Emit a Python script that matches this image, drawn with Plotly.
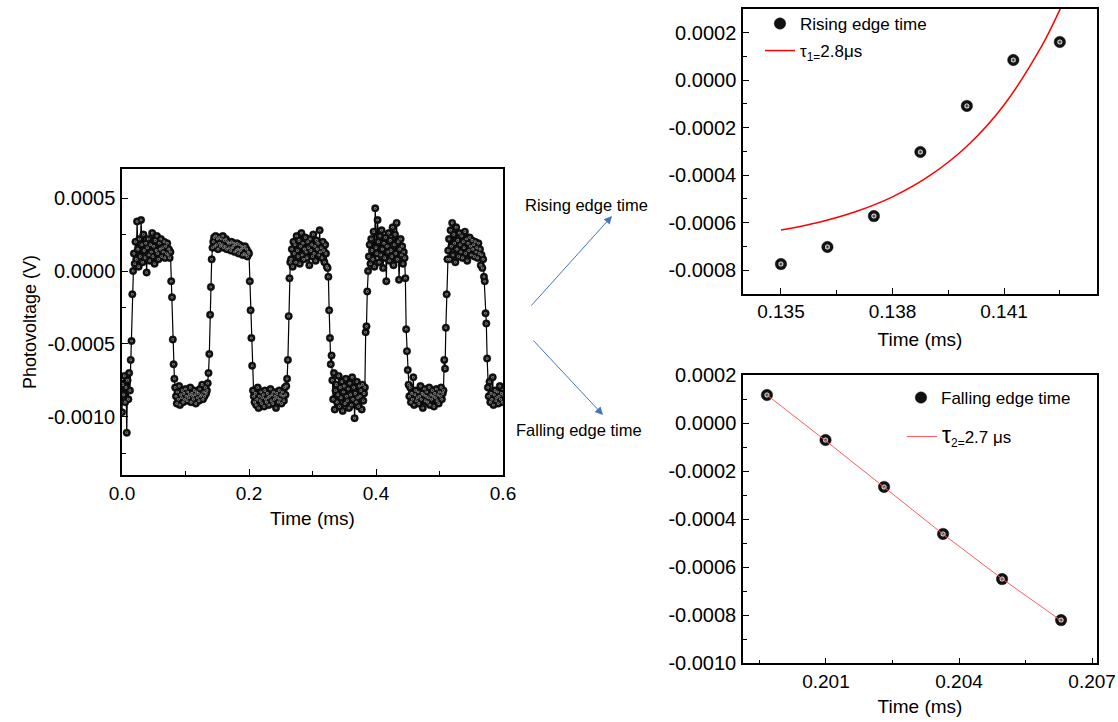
import plotly.graph_objects as go

# ---------------- main trace: photovoltage vs time (sampled every 1.25 us) ----------------
SAMPLE_STEP_MS = 0.00125
# values in units of 1e-5 V, segment by segment
low0 = [-97, -78, -85, -72, -90, -80, -111, -75, -88, -70, -82]
rise1 = [-61, -48, -16, 0]
high1 = [12, 5, 20, 8, 34, 15, 3, 22, 10, 35, 18, 6, 25, 14, 9, 19, -1, 16, 22, 11,
         7, 18, 13, 26, 10, 17, 5, 21, 14, 24, 12, 8, 19, 15, 22, 10, 16, 13, 20, 9,
         17, 12, 19, 11, 15, 9, 13]
fall1 = [-7, -18, -47, -64, -74]
low1 = [-80, -86, -91, -83, -88, -79, -92, -85, -87, -82, -90, -84, -88, -81, -86, -89,
        -83, -87, -85, -80, -90, -84, -86, -88, -82, -85, -91, -83, -87, -84, -89, -81,
        -86, -85, -78, -88, -83, -86, -80, -84, -82]
rise2 = [-77, -70, -57, -30, -11, 8, 16]
high2 = [20, 23, 17, 24, 18, 22, 15, 23, 19, 17, 22, 18, 24, 16, 21, 17, 22, 15, 20, 19,
         16, 19, 14, 20, 16, 17, 19, 13, 18, 14, 19, 15, 12, 18, 14, 15, 17, 11, 16, 12,
         17, 11, 15, 10, 13]
fall2 = [12, -7, -27, -46, -65, -82]
low2 = [-86, -90, -84, -92, -88, -80, -94, -86, -89, -83, -91, -87, -85, -93, -82, -88,
        -90, -84, -87, -92, -86, -81, -89, -85, -91, -83, -88, -86, -94, -84, -87, -90,
        -82, -88, -85, -91, -83, -86, -89, -80, -85, -79, -74]
rise3 = [-61, -31, -5, 6]
high3 = [8, 15, 3, 20, 12, 18, 6, 24, 14, 10, 21, 5, 17, 26, 11, 19, 8, 15, 23, 13,
         9, 20, 16, 4, 22, 14, 18, 10, 25, 12, 17, 7, 21, 15, 19, 11, 28, 13, 16, 9,
         20, 14, 6, 18, 12, 3, 2]
fall3 = [-4, -27, -46, -64]
low3 = [-58, -75, -88, -70, -95, -82, -78, -90, -85, -72, -93, -80, -87, -76, -96, -83,
        -79, -91, -74, -86, -89, -81, -94, -77, -85, -92, -73, -88, -80, -101, -84, -90,
        -76, -87, -93, -79, -86, -82, -95, -78, -89, -84, -80]
rise4 = [-42, -38, -14, 0]
high4 = [10, 18, 5, 22, 14, 8, 27, 3, 43, 16, 12, 35, 20, 6, 24, 11, 28, 15, 2, 19,
         9, 23, -7, 17, 13, 26, 7, 21, 14, 10, 30, 4, 18, 25, 12, 33, 8, 20, -6, 15,
         22, 11, 17, 5, 13, 9]
fall4 = [-5, -40, -55, -68, -78]
low4 = [-86, -80, -90, -84, -88, -73, -92, -85, -82, -89, -87, -83, -91, -86, -79, -88,
        -84, -94, -85, -81, -89, -86, -83, -90, -87, -80, -92, -85, -88, -82, -86, -93,
        -84, -87, -81, -89, -85, -91, -83, -86, -80, -88, -84, -82]
rise5 = [-61, -67, -39, -16, 8]
high5 = [14, 22, 8, 28, 17, 33, 11, 25, 19, 6, 30, 15, 21, 10, 26, 18, 13, 24, 9, 20,
         16, 27, 12, 22, 7, 19, 14, 23, 17, 11, 21, 15, 18, 10, 20, 13, 16, 9, 19, 12,
         15, 4, 11, 2, 8]
fall5 = [-4, -7, -29, -36, -60]
low5 = [-80, -86, -76, -90, -84, -88, -73, -92, -85, -82, -89, -87, -83, -91, -86, -79,
        -88, -84, -90, -85]

segments = [low0, rise1, high1, fall1, low1, rise2, high2, fall2, low2, rise3, high3,
            fall3, low3, rise4, high4, fall4, low4, rise5, high5, fall5, low5]
photovoltage_1e5V = [v for seg in segments for v in seg]
time_ms = [round(i * SAMPLE_STEP_MS, 6) for i in range(len(photovoltage_1e5V))]
photovoltage_V = [v * 1e-5 for v in photovoltage_1e5V]

# ---------------- rising-edge inset ----------------
rise_time_ms = [0.135, 0.13625, 0.1375, 0.13875, 0.14, 0.14125, 0.1425]
rise_volt = [-0.000775, -0.000703, -0.000573, -0.000303, -0.000109, 0.0000842, 0.00016]
rise_fit_time_ms = [0.135, 0.136, 0.137, 0.138, 0.139, 0.140, 0.141, 0.142, 0.1425, 0.143]
rise_fit_volt = [-0.000632, -0.000600, -0.000555, -0.000492, -0.000403, -0.000279,
                 -0.000105, 0.000139, 0.000296, 0.000482]

# ---------------- falling-edge inset ----------------
fall_time_ms = [0.19967, 0.20099, 0.20231, 0.20364, 0.20497, 0.2063]
fall_volt = [0.000118, -0.0000696, -0.000265, -0.000461, -0.000649, -0.00082]
fall_fit_volt = [0.000118, -0.000072, -0.000266, -0.000462, -0.000648, -0.000822]

# ---------------- tick labels ----------------
main_x_ticks = [0.0, 0.2, 0.4, 0.6]
main_x_labels = ["0.0", "0.2", "0.4", "0.6"]
main_y_ticks = [0.0005, 0.0, -0.0005, -0.0010]
main_y_labels = ["0.0005", "0.0000", "-0.0005", "-0.0010"]
rise_x_ticks = [0.135, 0.138, 0.141]
rise_x_labels = ["0.135", "0.138", "0.141"]
rise_y_ticks = [0.0002, 0.0, -0.0002, -0.0004, -0.0006, -0.0008]
rise_y_labels = ["0.0002", "0.0000", "-0.0002", "-0.0004", "-0.0006", "-0.0008"]
fall_x_ticks = [0.201, 0.204, 0.207]
fall_x_labels = ["0.201", "0.204", "0.207"]
fall_y_ticks = [0.0002, 0.0, -0.0002, -0.0004, -0.0006, -0.0008, -0.0010]
fall_y_labels = ["0.0002", "0.0000", "-0.0002", "-0.0004", "-0.0006", "-0.0008", "-0.0010"]

W, H = 1118, 722
FONT = "Arial, 'Liberation Sans', sans-serif"
BALL = "#111111"


def px(x):
    return x / W


def py(y):
    return 1 - y / H


fig = go.Figure()


def add_balls(x, y, xa, ya, size, hl_size, hl_color, name=None, legend=None, lines=False):
    fig.add_trace(go.Scatter(
        x=x, y=y, mode="lines+markers" if lines else "markers", xaxis=xa, yaxis=ya,
        line=dict(color="black", width=1.2),
        marker=dict(size=size, color=BALL, line=dict(color="black", width=0.4)),
        name=name, legend=legend, showlegend=name is not None))
    fig.add_trace(go.Scatter(
        x=x, y=y, mode="markers", xaxis=xa, yaxis=ya,
        marker=dict(size=hl_size, color=hl_color, gradient=dict(type="radial", color=BALL)),
        showlegend=False, hoverinfo="skip"))


# main data
add_balls(time_ms, photovoltage_V, "x", "y", 7.5, 2.6, "#a8a8a8", lines=True)
# rising inset
add_balls(rise_time_ms, rise_volt, "x2", "y2", 11.5, 5, "#f4f4f4",
          name="Rising edge time", legend="legend")
fig.add_trace(go.Scatter(
    x=rise_fit_time_ms, y=rise_fit_volt, mode="lines", xaxis="x2", yaxis="y2",
    line=dict(color="#ff0000", width=1.5, shape="spline"),
    name="τ<sub>1=</sub>2.8μs", legend="legend2"))
# falling inset
add_balls(fall_time_ms, fall_volt, "x3", "y3", 11.5, 5, "#f4f4f4",
          name="Falling edge time", legend="legend3")
fig.add_trace(go.Scatter(
    x=fall_time_ms, y=fall_fit_volt, mode="lines", xaxis="x3", yaxis="y3",
    line=dict(color="#ff5a5a", width=1),
    name="<span style='font-size:23px'>τ</span><sub>2=</sub>2.7 μs", legend="legend4"))


def axis_style(is_x, **kw):
    base = dict(showline=True, linecolor="black", linewidth=1.5, mirror=True,
                showgrid=False, zeroline=False, ticks="inside", ticklen=6, tickwidth=1.2,
                tickcolor="black", automargin=False,
                tickfont=dict(family=FONT, size=19 if is_x else 20, color="black"),
                ticklabelstandoff=0 if is_x else 1)
    base.update(kw)
    return base


def minor(vals):
    return dict(tickvals=vals, ticks="inside", ticklen=4, tickcolor="black", tickwidth=1.2)


title_font = dict(family=FONT, size=19, color="black")

fig.update_layout(
    width=W, height=H, autosize=False,
    margin=dict(l=0, r=0, t=0, b=0, pad=0, autoexpand=False),
    paper_bgcolor="white", plot_bgcolor="white",
    font=dict(family=FONT, color="black"),
    xaxis=axis_style(True, domain=[px(122), px(503)], range=[0, 0.6], anchor="y",
                     tickvals=main_x_ticks, ticktext=main_x_labels,
                     minor=minor([0.1, 0.3, 0.5]),
                     title=dict(text="Time (ms)", font=title_font, standoff=9)),
    yaxis=axis_style(False, domain=[py(475), py(169)], range=[-0.0014, 0.0007], anchor="x",
                     tickvals=main_y_ticks, ticktext=main_y_labels,
                     minor=minor([0.00025, -0.00025, -0.00075, -0.00125]),
                     title=dict(text="Photovoltage (V)",
                                font=dict(family=FONT, size=18, color="black"), standoff=6)),
    xaxis2=axis_style(True, domain=[px(743), px(1097)], range=[0.13398, 0.1435], anchor="y2",
                      tickvals=rise_x_ticks, ticktext=rise_x_labels,
                      minor=minor([0.1365, 0.1395, 0.1425]),
                      title=dict(text="Time (ms)", font=title_font, standoff=11)),
    yaxis2=axis_style(False, domain=[py(293.75), py(8.75)], range=[-0.0009, 0.0003], anchor="x2",
                      tickvals=rise_y_ticks, ticktext=rise_y_labels,
                      minor=minor([0.0001, -0.0001, -0.0003, -0.0005, -0.0007])),
    xaxis3=axis_style(True, domain=[px(743), px(1097)], range=[0.19913, 0.20711], anchor="y3",
                      tickvals=fall_x_ticks, ticktext=fall_x_labels,
                      minor=minor([0.1995, 0.2025, 0.2055]),
                      title=dict(text="Time (ms)", font=title_font, standoff=9)),
    yaxis3=axis_style(False, domain=[py(663.3), py(375.3)], range=[-0.0010, 0.0002], anchor="x3",
                      tickvals=fall_y_ticks, ticktext=fall_y_labels,
                      minor=minor([0.0001, -0.0001, -0.0003, -0.0005, -0.0007, -0.0009])),
)

legend_common = dict(xanchor="left", yanchor="middle", bgcolor="rgba(0,0,0,0)",
                     borderwidth=0, font=dict(family=FONT, size=17, color="black"))
fig.update_layout(
    legend=dict(x=px(760), y=py(24), **legend_common),
    legend2=dict(x=px(760), y=py(51), **legend_common),
    legend3=dict(x=px(901), y=py(398), **legend_common),
    legend4=dict(x=px(902), y=py(437), **legend_common),
)

ARROW_BLUE = "#4472C4"
fig.add_annotation(x=px(612), y=py(216), xref="paper", yref="paper", ax=-82, ay=91,
                   text="", showarrow=True, arrowhead=2, arrowsize=1.6, arrowwidth=1,
                   arrowcolor=ARROW_BLUE)
fig.add_annotation(x=px(603), y=py(415), xref="paper", yref="paper", ax=-71, ay=-76,
                   text="", showarrow=True, arrowhead=2, arrowsize=1.6, arrowwidth=1,
                   arrowcolor=ARROW_BLUE)
fig.add_annotation(x=px(586), y=py(205), xref="paper", yref="paper", showarrow=False,
                   text="Rising edge time", xanchor="center", yanchor="middle",
                   font=dict(family=FONT, size=16.5, color="black"))
fig.add_annotation(x=px(579), y=py(430), xref="paper", yref="paper", showarrow=False,
                   text="Falling edge time", xanchor="center", yanchor="middle",
                   font=dict(family=FONT, size=16.5, color="black"))

fig.write_html("out.html")
